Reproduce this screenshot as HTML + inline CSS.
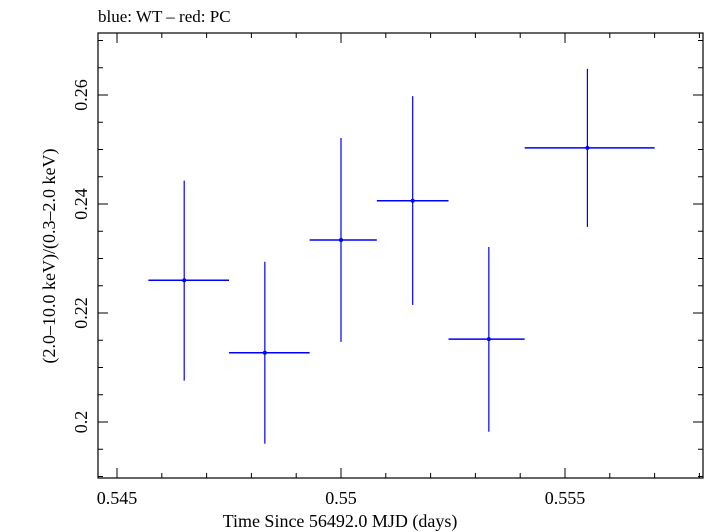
<!DOCTYPE html>
<html><head><meta charset="utf-8"><style>
body{margin:0;background:#fff;}
svg{display:block;font-family:"Liberation Serif",serif;}
</style></head><body>
<svg id="chart" width="705" height="532">
<text x="98" y="22" font-size="17">blue: WT – red: PC</text>
<rect x="98" y="33" width="605" height="445" fill="none" stroke="#000" stroke-width="1.2"/>
<g id="axes"></g>
<g id="marks"></g>
<text x="340" y="527" font-size="18" text-anchor="middle">Time Since 56492.0 MJD (days)</text>
<text transform="translate(55,256) rotate(-90)" font-size="18" text-anchor="middle">(2.0–10.0 keV)/(0.3–2.0 keV)</text>
</svg>
<script>
const xVals=[0.5465,0.5483,0.5500,0.5516,0.5533,0.5555];
const xLo=[0.5457,0.5475,0.5493,0.5508,0.5524,0.5541];
const xHi=[0.5475,0.5493,0.5508,0.5524,0.5541,0.5570];
const yVals=[0.2260,0.2127,0.2334,0.2406,0.2152,0.2503];
const yLo=[0.2076,0.1960,0.2147,0.2215,0.1982,0.2358];
const yHi=[0.2443,0.2294,0.2521,0.2598,0.2321,0.2648];
const xTicks=[0.545,0.55,0.555];
const xTickLabels=["0.545","0.55","0.555"];
const yTicks=[0.2,0.22,0.24,0.26];
const yTickLabels=["0.2","0.22","0.24","0.26"];
const L=98,R=703,T=33,B=478;
const sx=v=>117+(v-0.545)*224/0.005;
const sy=v=>422-(v-0.2)*109/0.02;
const NS="http://www.w3.org/2000/svg";
function mk(tag,attrs,parent){const e=document.createElementNS(NS,tag);for(const k in attrs)e.setAttribute(k,attrs[k]);parent.appendChild(e);return e;}
const axes=document.getElementById('axes');
for(let i=0;i<=13;i++){const v=0.545+i*0.001;if(v>0.5585)break;const x=sx(v);const major=i%5===0;const len=major?10:5;
 const t1=mk('line',{x1:x,x2:x,y1:B,y2:B-len,stroke:'#000'},axes);
 
 
 const t2=mk('line',{x1:x,x2:x,y1:T,y2:T+len,stroke:'#000'},axes);
 
 }
for(let i=-2;i<=14;i++){const v=0.2+i*0.005;const y=sy(v);if(y<T||y>B)continue;const major=i%4===0;const len=major?10:5;
 const t1=mk('line',{x1:L,x2:L+len,y1:y,y2:y,stroke:'#000'},axes);
 
 
 const t2=mk('line',{x1:R,x2:R-len,y1:y,y2:y,stroke:'#000'},axes);
 
 }
xTicks.forEach((v,i)=>{const t=mk('text',{x:sx(v),y:504,'font-size':18,'text-anchor':'middle'},axes);t.textContent=xTickLabels[i];
 
 });
yTicks.forEach((v,i)=>{const t=mk('text',{transform:`translate(87,${sy(v)}) rotate(-90)`,'font-size':18,'text-anchor':'middle'},axes);t.textContent=yTickLabels[i];
 
 });
const marks=document.getElementById('marks');
xVals.forEach((xv,i)=>{const g=mk('g',{},marks);
 
 
 mk('line',{x1:sx(xLo[i]),x2:sx(xHi[i]),y1:sy(yVals[i]),y2:sy(yVals[i]),stroke:'#00f','stroke-width':1.5},g);
 mk('line',{x1:sx(xv),x2:sx(xv),y1:sy(yLo[i]),y2:sy(yHi[i]),stroke:'#00f','stroke-width':1.2},g);
 mk('circle',{cx:sx(xv),cy:sy(yVals[i]),r:2,fill:'#00f'},g);});
</script>
</body></html>
